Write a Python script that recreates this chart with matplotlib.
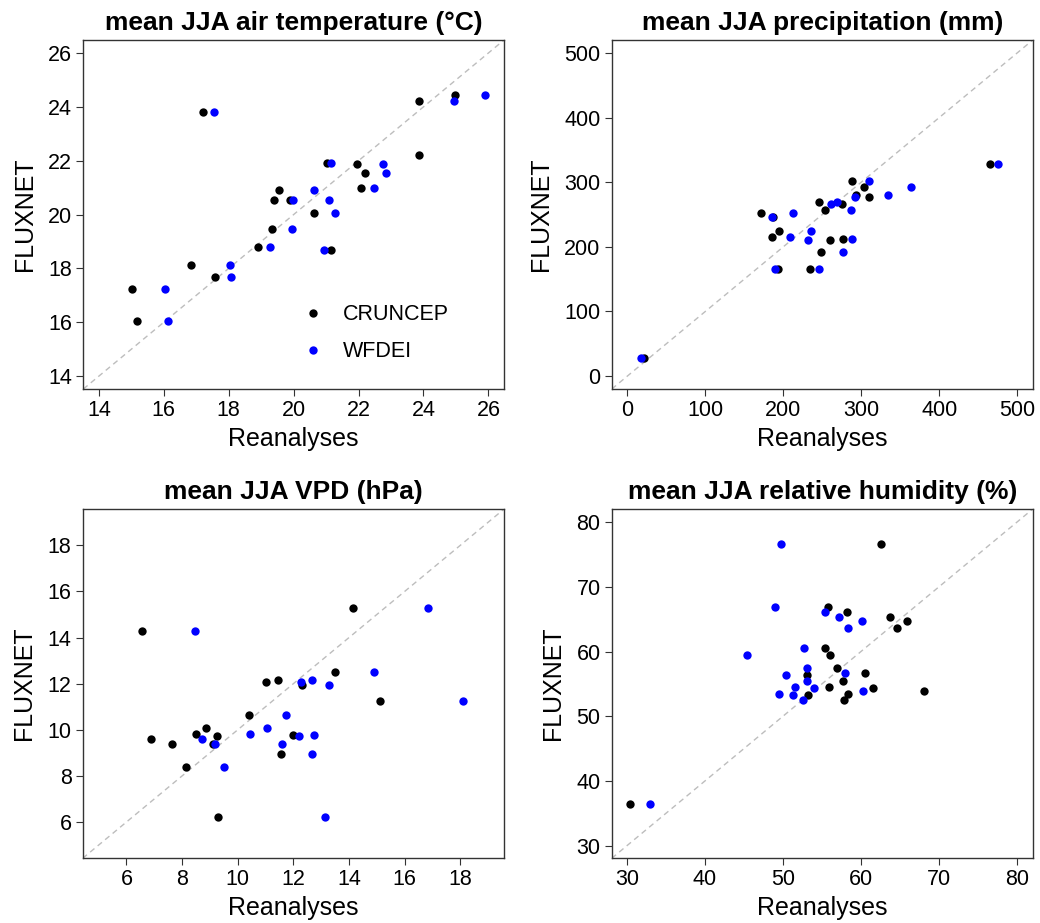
import matplotlib
matplotlib.use("Agg")
import matplotlib.pyplot as plt
import numpy as np

plt.rcParams['font.family'] = ['Liberation Sans', 'DejaVu Sans']

# mean JJA air temperature (°C)
temp_flux = [23.82, 24.22, 24.44, 22.21, 21.93, 21.88, 21.53, 21.00, 20.91, 20.54,
             20.54, 20.07, 19.48, 18.79, 18.70, 18.14, 17.68, 17.23, 16.05]
temp_cru = [17.21, 23.86, 24.98, 23.87, 21.03, 21.96, 22.21, 22.08, 19.55, 19.40,
            19.88, 20.64, 19.33, 18.91, 21.15, 16.83, 17.58, 15.03, 15.18]
temp_wfd = [17.55, 24.93, 25.91, np.nan, 21.14, 22.75, 22.85, 22.49, 20.62, 19.98,
            21.08, 21.27, 19.94, 19.28, 20.95, 18.05, 18.08, 16.03, 16.13]

# mean JJA precipitation (mm)
prec_flux = [327.9, 28.3, 302.0, 293.4, 280.4, 277.9, 269.6, 266.5, 256.5, 252.1,
             246.4, 225.3, 216.0, 210.3, 211.9, 191.8, 166.0, 166.0]
prec_cru = [465.4, 21.3, 288.8, 303.8, 293.6, 309.4, 245.7, 276.0, 254.2, 170.9,
            186.7, 194.0, 185.0, 260.3, 276.9, 248.2, 193.1, 234.6]
prec_wfd = [475.1, 17.9, 309.4, 364.1, 334.1, 291.8, 268.7, 261.5, 286.3, 212.8,
            185.0, 235.0, 208.5, 232.0, 287.6, 276.9, 189.7, 245.6]

# mean JJA VPD (hPa)
vpd_flux = [14.27, 15.28, 12.50, 12.17, 12.06, 11.96, 11.26, 10.63, 10.06, 9.80,
            9.74, 9.77, 9.60, 9.40, 9.40, 8.95, 8.37, 6.20]
vpd_cru = [6.57, 14.13, 13.49, 11.46, 11.03, 12.31, 15.10, 10.41, 8.86, 8.50,
           9.26, 12.00, 6.89, 7.65, 9.10, 11.57, 8.15, 9.29]
vpd_wfd = [8.45, 16.85, 14.91, 12.68, 12.28, 13.28, 18.11, 11.72, 11.04, 10.43,
           12.19, 12.74, 8.71, 9.20, 11.58, 12.67, 9.50, 13.13]

# mean JJA relative humidity (%)
rh_flux = [36.39, 76.56, 66.94, 66.06, 65.34, 64.78, 63.64, 60.62, 59.48, 57.47,
           56.45, 56.65, 55.46, 54.54, 54.38, 53.87, 53.31, 53.52, 52.59]
rh_cru = [30.42, 62.60, 55.81, 58.28, 63.67, 65.97, 64.69, 55.46, 56.10, 57.00,
          53.08, 60.51, 57.69, 55.90, 61.58, 68.08, 53.28, 58.41, 57.90]
rh_wfd = [32.95, 49.78, 48.97, 55.38, 57.18, 60.17, 58.33, 52.73, 45.38, 53.12,
          50.42, 57.99, 53.15, 51.54, 54.01, 60.26, 51.28, 49.44, 52.60]

titles = ["mean JJA air temperature (°C)", "mean JJA precipitation (mm)",
          "mean JJA VPD (hPa)", "mean JJA relative humidity (%)"]

panels = [
    (temp_flux, temp_cru, temp_wfd, (13.52, 26.48), np.arange(14, 27, 2)),
    (prec_flux, prec_cru, prec_wfd, (-20, 520), np.arange(0, 501, 100)),
    (vpd_flux, vpd_cru, vpd_wfd, (4.43, 19.57), np.arange(6, 19, 2)),
    (rh_flux, rh_cru, rh_wfd, (28.06, 82.03), np.arange(30, 81, 10)),
]

positions = [
    [0.0801, 0.5785, 0.4045, 0.3781],
    [0.5882, 0.5785, 0.4048, 0.3781],
    [0.0795, 0.0701, 0.4052, 0.3784],
    [0.5882, 0.0701, 0.4048, 0.3784],
]

fig = plt.figure(figsize=(10.4, 9.23), dpi=100)

for i, (flux, cru, wfd, lims, ticks) in enumerate(panels):
    ax = fig.add_axes(positions[i])
    ax.axline((lims[0], lims[0]), slope=1, color='#bdbdbd', lw=1.0,
              dashes=(4, 3), zorder=1)
    ax.plot(cru, flux, 'o', color='black', ms=6, mec='none',
            label='CRUNCEP', zorder=2)
    ax.plot(wfd, flux, 'o', color='blue', ms=6, mec='none',
            label='WFDEI', zorder=3)
    ax.set_xlim(lims)
    ax.set_ylim(lims)
    ax.set_xticks(ticks)
    ax.set_yticks(ticks)
    ax.tick_params(labelsize=15.5, length=5, width=0.8, color='#333333', pad=3)
    for s in ax.spines.values():
        s.set_linewidth(1.0)
        s.set_color('#333333')
    ax.set_title(titles[i], fontsize=19, fontweight='bold', pad=7)
    ax.set_xlabel('Reanalyses', fontsize=18, labelpad=4)
    ax.set_ylabel('FLUXNET', fontsize=18, labelpad=8)
    if i == 0:
        ax.legend(loc='center left', bbox_to_anchor=(0.5, 0.16), frameon=False,
                  fontsize=15.5, handletextpad=0.9, labelspacing=0.75,
                  handlelength=1.0, borderaxespad=0)

fig.savefig('out.png', dpi=100)
